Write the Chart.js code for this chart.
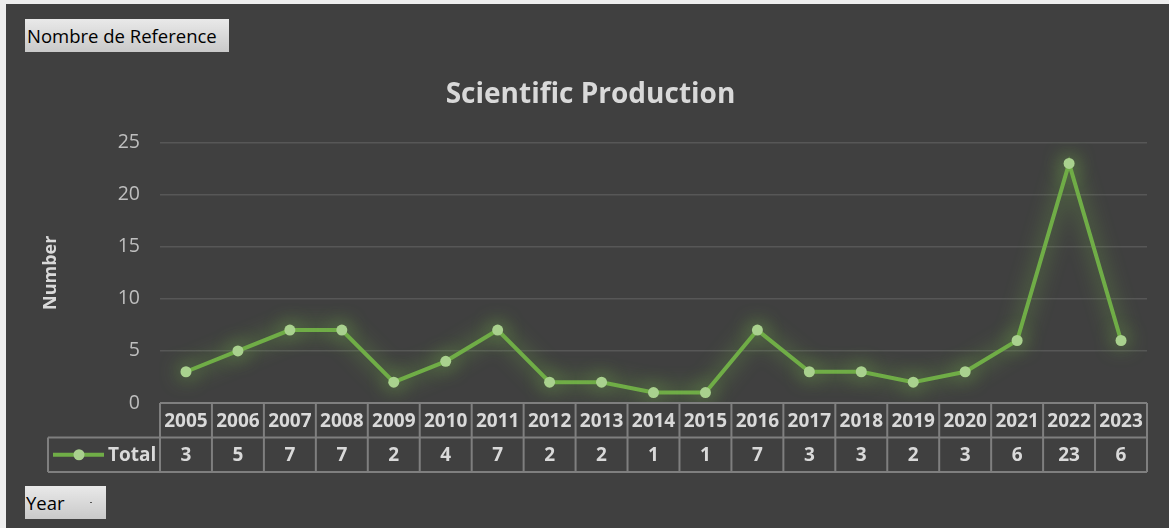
<!DOCTYPE html>
<html>
<head>
<meta charset="utf-8">
<title>Scientific Production</title>
<script src="https://cdn.jsdelivr.net/npm/chart.js@4/dist/chart.umd.min.js"></script>
<style>
  body { margin: 0; width: 1169px; height: 528px; overflow: hidden; background: #eeeeee; font-family: "Open Sans", sans-serif; }
  #bg { position: absolute; left: 6px; top: 4px; width: 1163px; height: 524px; background: #404040; }
  #wrap { position: absolute; left: 0; top: 0; width: 1169px; height: 528px; }
  .btn { position: absolute; background: linear-gradient(#e9e9e9, #c9c9c9); color: #000; font-size: 18.5px; line-height: 33px; white-space: nowrap; box-sizing: border-box; }
  #btnRef { left: 25px; top: 19px; width: 204px; height: 33px; padding-left: 2px; }
  #btnYear { left: 25px; top: 486px; width: 81px; height: 33px; padding-left: 1px; }
  #btnYear span { position: absolute; left: 65px; top: 16px; width: 2px; height: 1px; background: #555; }
</style>
</head>
<body>
<div id="bg"></div>
<div id="wrap"><canvas id="chart" width="1169" height="528"></canvas></div>
<div class="btn" id="btnRef">Nombre de Reference</div>
<div class="btn" id="btnYear">Year<span></span></div>
<script>
// datos
const years = ["2005", "2006", "2007", "2008", "2009", "2010", "2011", "2012", "2013", "2014",
  "2015", "2016", "2017", "2018", "2019", "2020", "2021", "2022", "2023"];
const totals = [3, 5, 7, 7, 2, 4, 7, 2, 2, 1, 1, 7, 3, 3, 2, 3, 6, 23, 6];
const seriesName = "Total";
const yMin = 0;
const yMax = 25;
const yStep = 5;

const lineColor = "#70ad47";
const pointColor = "#a9d18e";
const textColor = "#d9d9d9";

// brillo verde alrededor de la linea
const glowPlugin = {
  id: "glow",
  beforeDatasetsDraw(chart) {
    const ctx = chart.ctx;
    ctx.save();
    ctx.shadowColor = "rgba(112, 173, 71, 1)";
    ctx.shadowBlur = 20;
  },
  afterDatasetsDraw(chart) {
    chart.ctx.restore();
  },
};

// tabla de datos debajo del eje x
const dataTablePlugin = {
  id: "dataTable",
  afterDraw(chart) {
    const ctx = chart.ctx;
    const x = chart.scales.x;
    const top = chart.chartArea.bottom;
    const rowH = 34.5;
    const colW = (x.right - x.left) / years.length;
    const legendLeft = 48;

    ctx.save();
    ctx.strokeStyle = "#7f7f7f";
    ctx.lineWidth = 2;
    // filas
    ctx.beginPath();
    ctx.moveTo(x.left, top);
    ctx.lineTo(x.right, top);
    ctx.moveTo(legendLeft, top + rowH);
    ctx.lineTo(x.right, top + rowH);
    ctx.moveTo(legendLeft, top + rowH * 2);
    ctx.lineTo(x.right, top + rowH * 2);
    // columnas
    for (let i = 0; i <= years.length; i++) {
      const cx = x.left + colW * i;
      ctx.moveTo(cx, top);
      ctx.lineTo(cx, top + rowH * 2);
    }
    ctx.moveTo(legendLeft, top + rowH);
    ctx.lineTo(legendLeft, top + rowH * 2);
    ctx.stroke();

    ctx.fillStyle = textColor;
    ctx.font = "bold 19px 'Open Sans'";
    ctx.textAlign = "center";
    ctx.textBaseline = "middle";
    years.forEach((yr, i) => {
      const cx = x.getPixelForValue(i);
      ctx.fillText(yr, cx, top + rowH / 2 + 1);
      ctx.fillText(String(totals[i]), cx, top + rowH * 1.5 + 1);
    });

    // leyenda
    const ly = top + rowH * 1.5;
    ctx.strokeStyle = lineColor;
    ctx.lineWidth = 4;
    ctx.beginPath();
    ctx.moveTo(53, ly);
    ctx.lineTo(104, ly);
    ctx.stroke();
    ctx.fillStyle = pointColor;
    ctx.beginPath();
    ctx.arc(79, ly, 5.5, 0, Math.PI * 2);
    ctx.fill();
    ctx.fillStyle = textColor;
    ctx.textAlign = "left";
    ctx.fillText(seriesName, 108, ly + 1);
    ctx.restore();
  },
};

const ctx = document.getElementById("chart").getContext("2d");
const chart = new Chart(ctx, {
  type: "line",
  data: {
    labels: years,
    datasets: [
      {
        label: seriesName,
        data: totals,
        borderColor: lineColor,
        borderWidth: 4,
        backgroundColor: pointColor,
        pointBackgroundColor: pointColor,
        pointBorderWidth: 0,
        pointRadius: 5.5,
        tension: 0,
        fill: false,
      },
    ],
  },
  options: {
    responsive: false,
    animation: false,
    events: [],
    layout: { padding: { left: 34, right: 22, top: 0, bottom: 125 } },
    plugins: {
      legend: { display: false },
      tooltip: { enabled: false },
      title: {
        display: true,
        text: "Scientific Production",
        color: textColor,
        font: { family: "'Open Sans'", size: 28, weight: "bold" },
        padding: { top: 78, bottom: 31 },
      },
    },
    scales: {
      x: {
        offset: true,
        grid: { display: false },
        border: { display: false },
        ticks: { display: false },
        afterFit(scale) {
          scale.height = 0;
        },
      },
      y: {
        min: yMin,
        max: yMax,
        afterFit(scale) {
          scale.width = 126;
        },
        ticks: {
          stepSize: yStep,
          color: "#bfbfbf",
          padding: 20,
          font: { family: "'Open Sans'", size: 19.5 },
        },
        grid: { color: "#575757", lineWidth: 1.5, drawTicks: false },
        border: { display: false },
        title: {
          display: true,
          text: "Number",
          color: textColor,
          font: { family: "'Open Sans'", size: 18, weight: "bold" },
          padding: { top: 6, bottom: 0 },
        },
      },
    },
  },
  plugins: [glowPlugin, dataTablePlugin],
});
</script>
</body>
</html>
